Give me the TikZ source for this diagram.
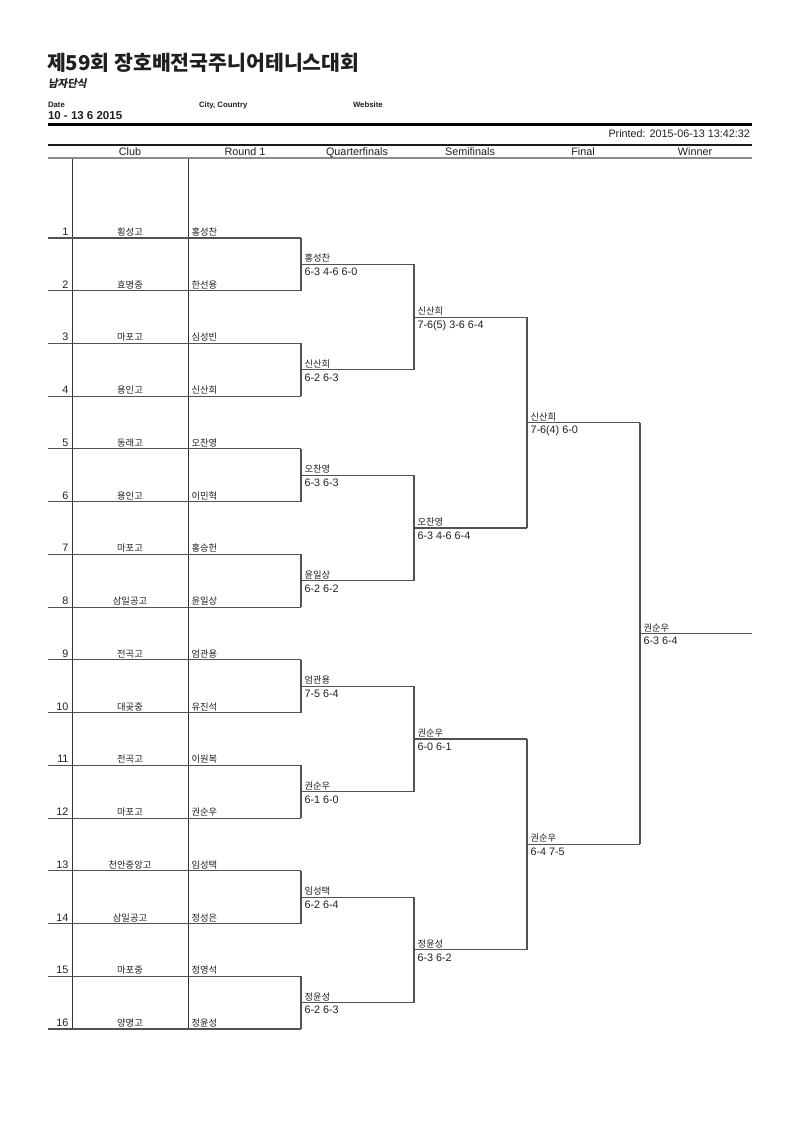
\documentclass[tikz,border=0pt]{standalone}
\usepackage{fontspec}
\setmainfont{Liberation Sans}
\newfontfamily\kr{Noto Sans CJK KR}
\newfontfamily\krsl{Noto Sans CJK KR}[FakeSlant=0.2,BoldFeatures={FakeSlant=0.2}]
\usetikzlibrary{calc}
\tikzset{
  txt/.style={inner sep=0pt, outer sep=0pt, text=black!88},
  kn/.style={txt, font=\kr\fontsize{9.3}{11}\selectfont, anchor=base west},
  kc/.style={txt, font=\kr\fontsize{9.3}{11}\selectfont, anchor=base},
  sc/.style={txt, font=\fontsize{10.8}{12}\selectfont, anchor=base west},
  num/.style={txt, font=\fontsize{10.8}{12}\selectfont, anchor=base east},
  hd/.style={txt, font=\fontsize{10.8}{12}\selectfont, anchor=base},
  small/.style={txt, font=\bfseries\fontsize{7.8}{9}\selectfont, anchor=base west},
  bline/.style={draw=black!68, line width=1.1pt},
  cline/.style={draw=black!80, line width=1pt},
}
\begin{document}
\begin{tikzpicture}[x=1pt,y=-1pt]
\useasboundingbox (0,0) rectangle (800,1131);
% header
\node[txt, anchor=base west, font=\kr\bfseries\fontsize{20.5}{22}\selectfont] (title) at (47,71) {제59회 장호배전국주니어테니스대회};
\node[txt, anchor=base west, font=\krsl\bfseries\fontsize{10.5}{12}\selectfont] (sub) at (48,87.5) {남자단식};
\node[small] (date) at (48,108) {Date};
\node[small] (city) at (199,108) {City, Country};
\node[small] (web) at (353,108) {Website};
\node[txt, anchor=base west, font=\bfseries\fontsize{11.5}{13}\selectfont] (dates) at (48,119.5) {10 - 13 6 2015};
\coordinate (tl) at (48,124.5); \coordinate (tr) at (752,124.5);
\draw[line width=2.2pt, black] (tl) -- (tr);
\node[txt, anchor=base east, font=\fontsize{10.8}{12}\selectfont] (printed) at (750,138) {Printed: 2015-06-13 13:42:32};
\coordinate (hl) at (48,145); \coordinate (hr) at (752,145);
\draw[line width=1.1pt, black!90] (hl) -- (hr);
\node[hd] (hclub) at (130,155.5) {Club};
\node[hd] (hr1) at (245,155.5) {Round 1};
\node[hd] (hqf) at (357,155.5) {Quarterfinals};
\node[hd] (hsf) at (470,155.5) {Semifinals};
\node[hd] (hfi) at (583,155.5) {Final};
\node[hd] (hwi) at (695,155.5) {Winner};
\coordinate (gl) at (48,158); \coordinate (gr) at (752,158);
\draw[line width=1.4pt, black!45] (gl) -- (gr);
% column lines
\coordinate (va1) at (72,158.7); \coordinate (vb1) at (72,1029.0);
\coordinate (va2) at (188,158.7); \coordinate (vb2) at (188,1029.0);
\draw[cline] (va1) -- (vb1);
\draw[cline] (va2) -- (vb2);
% round 1
\foreach \i/\club/\name in {1/횡성고/홍성찬,2/효명중/한선용,3/마포고/심성빈,4/용인고/신산희,5/동래고/오찬영,6/용인고/이민혁,7/마포고/홍승헌,8/삼일공고/윤일상,9/전곡고/엄관용,10/대곶중/유진석,11/전곡고/이원복,12/마포고/권순우,13/천안중앙고/임성택,14/삼일공고/정성은,15/마포중/정영석,16/양명고/정윤성}{
  \pgfmathsetmacro\y{238+(\i-1)*52.733}
  \coordinate (r1s\i) at (48,\y);
  \coordinate (r1e\i) at (301,\y);
  \draw[bline] (r1s\i) -- (r1e\i);
  \node[num] (n\i) at (68.5,\y-2.5) {\i};
  \node[kc] (c\i) at (130,\y-2.5) {\club};
  \node[kn] (p\i) at (191.5,\y-2.5) {\name};
}
% quarterfinals
\foreach \k/\name/\score in {1/홍성찬/6-3 4-6 6-0,2/신산희/6-2 6-3,3/오찬영/6-3 6-3,4/윤일상/6-2 6-2,5/엄관용/7-5 6-4,6/권순우/6-1 6-0,7/임성택/6-2 6-4,8/정윤성/6-2 6-3}{
  \pgfmathtruncatemacro\a{2*\k-1}
  \pgfmathtruncatemacro\b{2*\k}
  \draw[bline] (r1e\a) -- (r1e\b);
  \coordinate (r2s\k) at ($(r1e\a)!0.5!(r1e\b)$);
  \coordinate (r2e\k) at ([xshift=113pt]r2s\k);
  \draw[bline] (r2s\k) -- (r2e\k);
  \node[kn] (qn\k) at ([xshift=3.5pt,yshift=2.5pt]r2s\k) {\name};
  \node[sc] (qs\k) at ([xshift=3.5pt,yshift=-11.3pt]r2s\k) {\score};
}
% semifinals
\foreach \k/\name/\score in {1/신산희/7-6(5) 3-6 6-4,2/오찬영/6-3 4-6 6-4,3/권순우/6-0 6-1,4/정윤성/6-3 6-2}{
  \pgfmathtruncatemacro\a{2*\k-1}
  \pgfmathtruncatemacro\b{2*\k}
  \draw[bline] (r2e\a) -- (r2e\b);
  \coordinate (r3s\k) at ($(r2e\a)!0.5!(r2e\b)$);
  \coordinate (r3e\k) at ([xshift=113pt]r3s\k);
  \draw[bline] (r3s\k) -- (r3e\k);
  \node[kn] (sn\k) at ([xshift=3.5pt,yshift=2.5pt]r3s\k) {\name};
  \node[sc] (ss\k) at ([xshift=3.5pt,yshift=-11.3pt]r3s\k) {\score};
}
% final
\foreach \k/\name/\score in {1/신산희/7-6(4) 6-0,2/권순우/6-4 7-5}{
  \pgfmathtruncatemacro\a{2*\k-1}
  \pgfmathtruncatemacro\b{2*\k}
  \draw[bline] (r3e\a) -- (r3e\b);
  \coordinate (r4s\k) at ($(r3e\a)!0.5!(r3e\b)$);
  \coordinate (r4e\k) at ([xshift=113pt]r4s\k);
  \draw[bline] (r4s\k) -- (r4e\k);
  \node[kn] (fn\k) at ([xshift=3.5pt,yshift=2.5pt]r4s\k) {\name};
  \node[sc] (fs\k) at ([xshift=3.5pt,yshift=-11.3pt]r4s\k) {\score};
}
% winner
\draw[bline] (r4e1) -- (r4e2);
\coordinate (r5s) at ($(r4e1)!0.5!(r4e2)$);
\coordinate (r5e) at ([xshift=112pt]r5s);
\draw[bline] (r5s) -- (r5e);
\node[kn] (wn) at ([xshift=3.5pt,yshift=2.5pt]r5s) {권순우};
\node[sc] (ws) at ([xshift=3.5pt,yshift=-11.3pt]r5s) {6-3 6-4};
\end{tikzpicture}
\end{document}
